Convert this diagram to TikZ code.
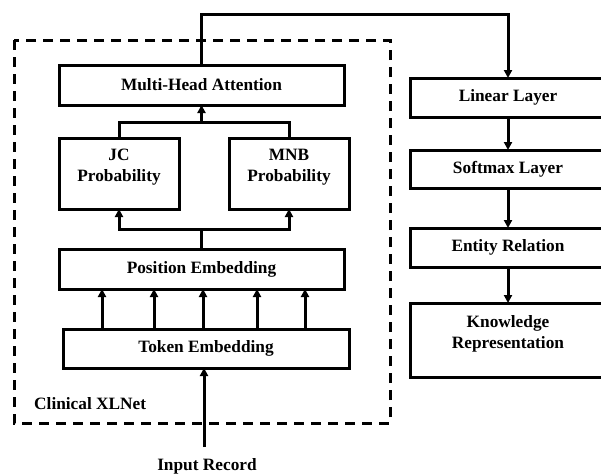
\documentclass[tikz,border=0pt]{standalone}
\usepackage{fontspec}
\setmainfont{Liberation Serif}
\usetikzlibrary{arrows.meta}
\begin{document}
\begin{tikzpicture}[x=1pt,y=-1pt,
  font=\fontsize{17.3}{20.8}\selectfont\bfseries,
  box/.style={draw,line width=3pt,inner sep=0pt,outer sep=0pt,rectangle},
  lbl/.style={inner sep=0pt,align=center},
  conn/.style={line width=3pt},
  arr/.style={conn,-{Triangle[length=8pt,width=8pt]}},
  frame/.style={line width=3pt,dash pattern=on 10pt off 7pt}]
\useasboundingbox (0,0) rectangle (601,474);

% encoder frame
\draw[frame] (14,40) rectangle (390,423);
\node[lbl,anchor=west] (xl) at (34,404) {Clinical XLNet};

% encoder blocks
\node[box,minimum width=285pt,minimum height=40pt] (mha) at (201.5,85) {Multi-Head Attention};
\node[box,minimum width=120pt,minimum height=71pt] (jc) at (119,173.5) {};
\node[lbl] (jct) at ([yshift=6pt]jc.center) {JC\\Probability};
\node[box,minimum width=120pt,minimum height=71pt] (mnb) at (289,173.5) {};
\node[lbl] (mnbt) at ([yshift=6pt]mnb.center) {MNB\\Probability};
\node[box,minimum width=285pt,minimum height=40pt] (pos) at (201.5,269) {Position Embedding};
\node[box,minimum width=286pt,minimum height=39pt] (tok) at (206,348.5) {Token Embedding};

% output blocks
\node[box,minimum width=196pt,minimum height=39pt] (lin) at (508,97.5) {Linear Layer};
\node[box,minimum width=196pt,minimum height=38pt] (soft) at (508,169) {Softmax Layer};
\node[box,minimum width=196pt,minimum height=39pt] (ent) at (508,247.5) {Entity Relation};
\node[box,minimum width=196pt,minimum height=74pt] (know) at (508,340) {};
\node[lbl] (knowt) at ([yshift=6pt]know.center) {Knowledge\\Representation};

% input
\node[lbl] (inp) at (207,466) {Input Record};
\coordinate (inps) at (204,447);

% junction points
\coordinate (split) at (201.5,229);
\coordinate (merge) at (201.5,122);
\coordinate (top) at (201.5,14);

% connectors
\draw[arr] (inps) -- (inps |- tok.south);
\foreach \x in {102,154,203,257,305}
  \draw[arr] (\x,0 |- tok.north) -- (\x,0 |- pos.south);
\draw[conn] (pos.north) -- (split);
\draw[arr] (split) -| (jc.south);
\draw[arr] (split) -| (mnb.south);
\draw[conn] (jc.north) |- (merge) -| (mnb.north);
\draw[arr] (merge) -- (mha.south);
\draw[arr] (mha.north) -- (top) -| (lin.north);
\draw[arr] (lin.south) -- (soft.north);
\draw[arr] (soft.south) -- (ent.north);
\draw[arr] (ent.south) -- (know.north);
\end{tikzpicture}
\end{document}
